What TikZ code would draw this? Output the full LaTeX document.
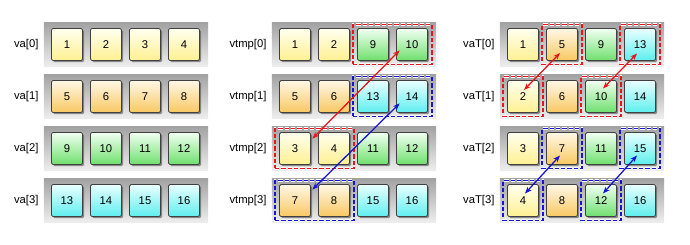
\documentclass[tikz,border=0pt]{standalone}
\usepackage{fontspec}
\setmainfont{Liberation Sans}
\usetikzlibrary{arrows.meta,positioning,fit,shadows}

\definecolor{yelT}{HTML}{FFFFF0}\definecolor{yelB}{HTML}{FFF090}
\definecolor{orgT}{HTML}{FFF8E6}\definecolor{orgB}{HTML}{F8C862}
\definecolor{grnT}{HTML}{F2FFF2}\definecolor{grnB}{HTML}{6EE06E}
\definecolor{cynT}{HTML}{EAFFFF}\definecolor{cynB}{HTML}{5EEEEE}
\definecolor{boxred}{HTML}{E8141C}
\definecolor{boxblue}{HTML}{1414D2}

\begin{document}
\begin{tikzpicture}[x=0.025cm,y=-0.025cm,>=Stealth,
  font=\fontsize{8pt}{9.6pt}\selectfont,
  bar/.style={minimum width=4.1cm,minimum height=1.075cm,inner sep=0pt,
    top color=black!36,bottom color=black!7,draw=none},
  lbl/.style={inner sep=0pt},
  cell/.style={minimum width=0.775cm,minimum height=0.8cm,inner sep=0pt,
    draw=black!75,line width=0.6pt,rounded corners=1pt,
    drop shadow={shadow xshift=0.04cm,shadow yshift=-0.04cm,fill=black!70,opacity=.6}},
  cell0/.style={top color=yelT,bottom color=yelB},
  cell1/.style={top color=orgT,bottom color=orgB},
  cell2/.style={top color=grnT,bottom color=grnB},
  cell3/.style={top color=cynT,bottom color=cynB},
  redbox/.style={preaction={draw=white,line width=1.7pt},draw=boxred,
    dash pattern=on 3pt off 1.5pt,line width=1.05pt,
    inner xsep=0.1cm,inner ysep=0.085cm},
  bluebox/.style={redbox,draw=boxblue},
  redarr/.style={draw=boxred,line width=0.9pt,
    arrows={Stealth[length=0.17cm,width=0.13cm]-Stealth[length=0.17cm,width=0.13cm]}},
  bluearr/.style={redarr,draw=boxblue}]

\useasboundingbox (0,0) rectangle (690,244);

% rows and their names
\foreach \nm/\ox in {va/0,vtmp/228,vaT/456}
  \foreach \r in {0,...,3} {
    \node[bar] (\nm-bar-\r) at ({\ox+126},{44.5+52*\r}) {};
    \node[lbl,left=0.125cm of \nm-bar-\r] (\nm-lbl-\r) {\nm[\r]};
  }

% va
\foreach \row [count=\r from 0] in {{1,2,3,4},{5,6,7,8},{9,10,11,12},{13,14,15,16}}
  \foreach \v [count=\c from 0] in \row {
    \pgfmathtruncatemacro\k{(\v-1)/4}
    \node[cell,cell\k] (va-\r-\c) at ({67+39*\c},{44.5+52*\r}) {\v};
  }

% vtmp
\foreach \row [count=\r from 0] in {{1,2,9,10},{5,6,13,14},{3,4,11,12},{7,8,15,16}}
  \foreach \v [count=\c from 0] in \row {
    \pgfmathtruncatemacro\k{(\v-1)/4}
    \node[cell,cell\k] (vtmp-\r-\c) at ({295+39*\c},{44.5+52*\r}) {\v};
  }

% vaT
\foreach \row [count=\r from 0] in {{1,5,9,13},{2,6,10,14},{3,7,11,15},{4,8,12,16}}
  \foreach \v [count=\c from 0] in \row {
    \pgfmathtruncatemacro\k{(\v-1)/4}
    \node[cell,cell\k] (vaT-\r-\c) at ({523+39*\c},{44.5+52*\r}) {\v};
  }

% swapped pairs
\node[redbox,fit=(vtmp-0-2)(vtmp-0-3)] (vtmp-hi0) {};
\node[bluebox,fit=(vtmp-1-2)(vtmp-1-3)] (vtmp-hi1) {};
\node[redbox,fit=(vtmp-2-0)(vtmp-2-1)] (vtmp-lo2) {};
\node[bluebox,fit=(vtmp-3-0)(vtmp-3-1)] (vtmp-lo3) {};
\foreach \a in {0-1,0-3,1-0,1-2}
  \node[redbox,fit=(vaT-\a)] (vaT-box-\a) {};
\foreach \a in {2-1,2-3,3-0,3-2}
  \node[bluebox,fit=(vaT-\a)] (vaT-box-\a) {};

\draw[redarr] ([shift={(1.5,6.5)}]vtmp-2-0.north east) -- ([shift={(3.5,-10.5)}]vtmp-0-3.south west);
\draw[bluearr] ([shift={(1.5,5.5)}]vtmp-3-0.north east) -- ([shift={(3.5,-9.5)}]vtmp-1-3.south west);

\draw[redarr] ([shift={(-2,8.5)}]vaT-0-1.center) -- ([shift={(1,-6.5)}]vaT-1-0.center);
\draw[redarr] ([shift={(-3,9)}]vaT-0-3.center) -- ([shift={(2,-8)}]vaT-1-2.center);
\draw[bluearr] ([shift={(-2,7)}]vaT-2-1.center) -- ([shift={(2,-7)}]vaT-3-0.center);
\draw[bluearr] ([shift={(-3,7)}]vaT-2-3.center) -- ([shift={(2,-7)}]vaT-3-2.center);
\end{tikzpicture}
\end{document}
